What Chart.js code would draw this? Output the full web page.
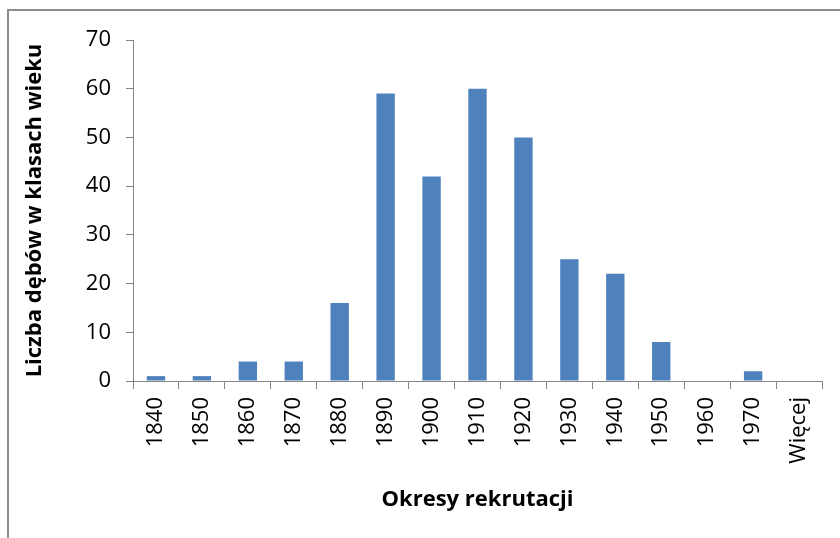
<!DOCTYPE html>
<html>
<head>
<meta charset="utf-8">
<script src="https://cdn.jsdelivr.net/npm/chart.js@4"></script>
<style>
  body { margin: 0; background: #fff; }
  #frame {
    position: absolute; left: 7px; top: 9px;
    width: 831px; height: 527px;
    border-top: 2px solid #8c8c8c; border-left: 2px solid #8c8c8c;
  }
</style>
</head>
<body>
<div id="frame"><canvas id="hist" width="831" height="527"></canvas></div>
<script>
// Okresy rekrutacji (categories) and counts
const periods = ['1840', '1850', '1860', '1870', '1880', '1890', '1900', '1910',
                 '1920', '1930', '1940', '1950', '1960', '1970', 'Więcej'];
const oakCounts = [1, 1, 4, 4, 16, 59, 42, 60, 50, 25, 22, 8, 0, 2, 0];
const yTicks = [0, 10, 20, 30, 40, 50, 60, 70];

const axisGray = '#868686';
const fontFamily = '"Open Sans", "DejaVu Sans", sans-serif';

new Chart(document.getElementById('hist').getContext('2d'), {
    type: 'bar',
    data: {
        labels: periods,
        datasets: [{
            data: oakCounts,
            backgroundColor: '#4F81BD',
            borderWidth: 0,
            barPercentage: 0.4,
            categoryPercentage: 1
        }]
    },
    options: {
        responsive: false,
        animation: false,
        layout: { padding: { left: 0, right: 18, top: 29, bottom: 0 } },
        plugins: {
            legend: { display: false },
            tooltip: { enabled: false }
        },
        scales: {
            x: {
                grid: {
                    offset: true,
                    drawOnChartArea: false,
                    drawTicks: true,
                    tickLength: 8,
                    color: axisGray
                },
                border: { color: axisGray, width: 1 },
                ticks: {
                    color: '#000',
                    font: { family: fontFamily, size: 22 },
                    minRotation: 90,
                    maxRotation: 90,
                    padding: 8,
                    autoSkip: false
                },
                title: {
                    display: true,
                    text: 'Okresy rekrutacji',
                    color: '#000',
                    font: { family: fontFamily, size: 22, weight: 'bold' },
                    padding: { top: 0, bottom: 25 }
                },
                afterFit: scale => { scale.height = 157; }
            },
            y: {
                min: 0,
                max: 70,
                afterBuildTicks: scale => {
                    scale.ticks = yTicks.map(v => ({ value: v }));
                },
                grid: {
                    drawOnChartArea: false,
                    drawTicks: true,
                    tickLength: 7,
                    color: axisGray
                },
                border: { color: axisGray, width: 1 },
                ticks: {
                    color: '#000',
                    font: { family: fontFamily, size: 22 },
                    padding: 15
                },
                title: {
                    display: true,
                    text: 'Liczba dębów w klasach wieku',
                    color: '#000',
                    font: { family: fontFamily, size: 22, weight: 'bold' },
                    padding: { top: 13, bottom: 0 }
                },
                afterFit: scale => { scale.width = 124; }
            }
        }
    }
});
</script>
</body>
</html>
